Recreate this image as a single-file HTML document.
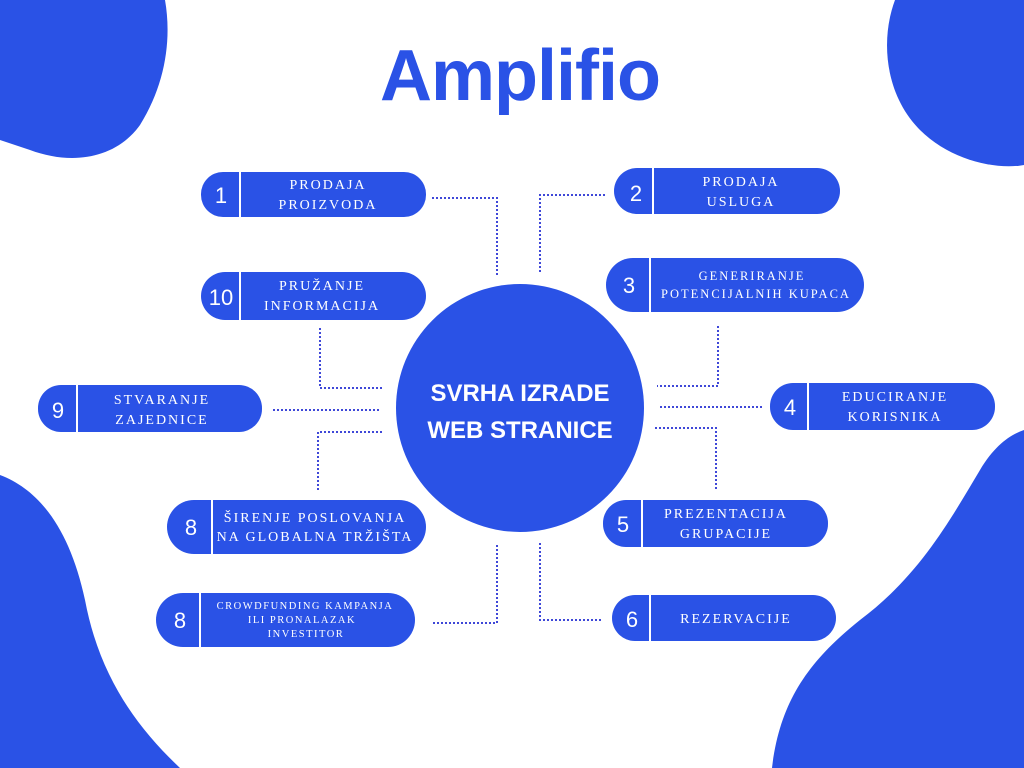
<!DOCTYPE html>
<html><head><meta charset="utf-8"><style>
html,body{margin:0;padding:0;background:#fff;}
svg{display:block;}
.t{font-family:"Liberation Serif",serif;font-size:14px;fill:#fff;letter-spacing:2px;text-anchor:middle;}
.n{font-family:"Liberation Sans",sans-serif;font-size:22px;fill:#fff;text-anchor:middle;}
.d{stroke:#3f48d8;stroke-width:2;stroke-dasharray:2 2;fill:none;}
</style></head><body>
<svg width="1024" height="768" viewBox="0 0 1024 768" xmlns="http://www.w3.org/2000/svg">
<g fill="#2a52e6">
<path d="M0 0 H165 C172 40 165 85 140 125 C115 160 70 165 30 150 L0 140 Z"/>
<path d="M895 0 H1024 V165 C995 170 950 160 920 130 C885 95 880 40 895 0 Z"/>
<path d="M0 475 C40 490 70 530 85 600 C100 680 140 730 180 768 H0 Z"/>
<path d="M1024 430 V768 H772 C780 700 810 660 860 620 C920 575 950 520 980 470 C995 445 1010 435 1024 430 Z"/>
<circle cx="520" cy="408" r="124"/>
</g>
<text x="520" y="100" text-anchor="middle" font-family="Liberation Sans,sans-serif" font-weight="bold" font-size="72" fill="#2a52e6" letter-spacing="-1">Amplifio</text>
<text x="520" y="401" text-anchor="middle" font-family="Liberation Sans,sans-serif" font-weight="bold" font-size="24" fill="#fff">SVRHA IZRADE</text>
<text x="520" y="438" text-anchor="middle" font-family="Liberation Sans,sans-serif" font-weight="bold" font-size="24" fill="#fff">WEB STRANICE</text>
<g class="d">
<path d="M432 198 H497 V275"/>
<path d="M540 272 V195 H605"/>
<path d="M320 328 V388 H383"/>
<path d="M718 326 V386 H657"/>
<path d="M273 410 H380"/>
<path d="M660 407 H763"/>
<path d="M382 432 H318 V492"/>
<path d="M655 428 H716 V490"/>
<path d="M497 545 V623 H432"/>
<path d="M540 543 V620 H603"/>
</g>
<g fill="#2a52e6" stroke="none">
<rect x="201" y="172" width="225" height="45" rx="22"/>
<rect x="614" y="168" width="226" height="46" rx="23"/>
<rect x="201" y="272" width="225" height="48" rx="24"/>
<rect x="606" y="258" width="258" height="54" rx="27"/>
<rect x="38" y="385" width="224" height="47" rx="23"/>
<rect x="770" y="383" width="225" height="47" rx="23"/>
<rect x="167" y="500" width="259" height="54" rx="27"/>
<rect x="603" y="500" width="225" height="47" rx="23"/>
<rect x="156" y="593" width="259" height="54" rx="27"/>
<rect x="612" y="595" width="224" height="46" rx="23"/>
</g>
<g stroke="#fff" stroke-width="2">
<line x1="240" y1="172" x2="240" y2="217"/>
<line x1="653" y1="168" x2="653" y2="214"/>
<line x1="240" y1="272" x2="240" y2="320"/>
<line x1="650" y1="258" x2="650" y2="312"/>
<line x1="77" y1="385" x2="77" y2="432"/>
<line x1="808" y1="383" x2="808" y2="430"/>
<line x1="212" y1="500" x2="212" y2="554"/>
<line x1="642" y1="500" x2="642" y2="547"/>
<line x1="200" y1="593" x2="200" y2="647"/>
<line x1="650" y1="595" x2="650" y2="641"/>
</g>
<text class="n" x="221" y="203">1</text>
<text class="n" x="636" y="201">2</text>
<text class="n" x="221" y="305">10</text>
<text class="n" x="629" y="293">3</text>
<text class="n" x="58" y="418">9</text>
<text class="n" x="790" y="415">4</text>
<text class="n" x="191" y="535">8</text>
<text class="n" x="623" y="532">5</text>
<text class="n" x="180" y="628">8</text>
<text class="n" x="632" y="627">6</text>
<text class="t" x="328" y="189">PRODAJA</text><text class="t" x="328" y="209">PROIZVODA</text>
<text class="t" x="741" y="186">PRODAJA</text><text class="t" x="741" y="206">USLUGA</text>
<text class="t" x="322" y="290">PRUŽANJE</text><text class="t" x="322" y="310">INFORMACIJA</text>
<text class="t" x="752" y="280" style="font-size:12.5px">GENERIRANJE</text><text class="t" x="756" y="298" style="font-size:12.5px">POTENCIJALNIH KUPACA</text>
<text class="t" x="162" y="404">STVARANJE</text><text class="t" x="162" y="424">ZAJEDNICE</text>
<text class="t" x="895" y="401">EDUCIRANJE</text><text class="t" x="895" y="421">KORISNIKA</text>
<text class="t" x="315" y="522">ŠIRENJE POSLOVANJA</text><text class="t" x="315" y="541">NA GLOBALNA TRŽIŠTA</text>
<text class="t" x="726" y="518">PREZENTACIJA</text><text class="t" x="726" y="538">GRUPACIJE</text>
<text class="t" x="305" y="609" style="font-size:10.5px;letter-spacing:1.5px">CROWDFUNDING KAMPANJA</text><text class="t" x="302" y="623" style="font-size:10.5px;letter-spacing:1.5px">ILI PRONALAZAK</text><text class="t" x="306" y="637" style="font-size:10.5px;letter-spacing:1.5px">INVESTITOR</text>
<text class="t" x="736" y="623">REZERVACIJE</text>
</svg>
</body></html>
